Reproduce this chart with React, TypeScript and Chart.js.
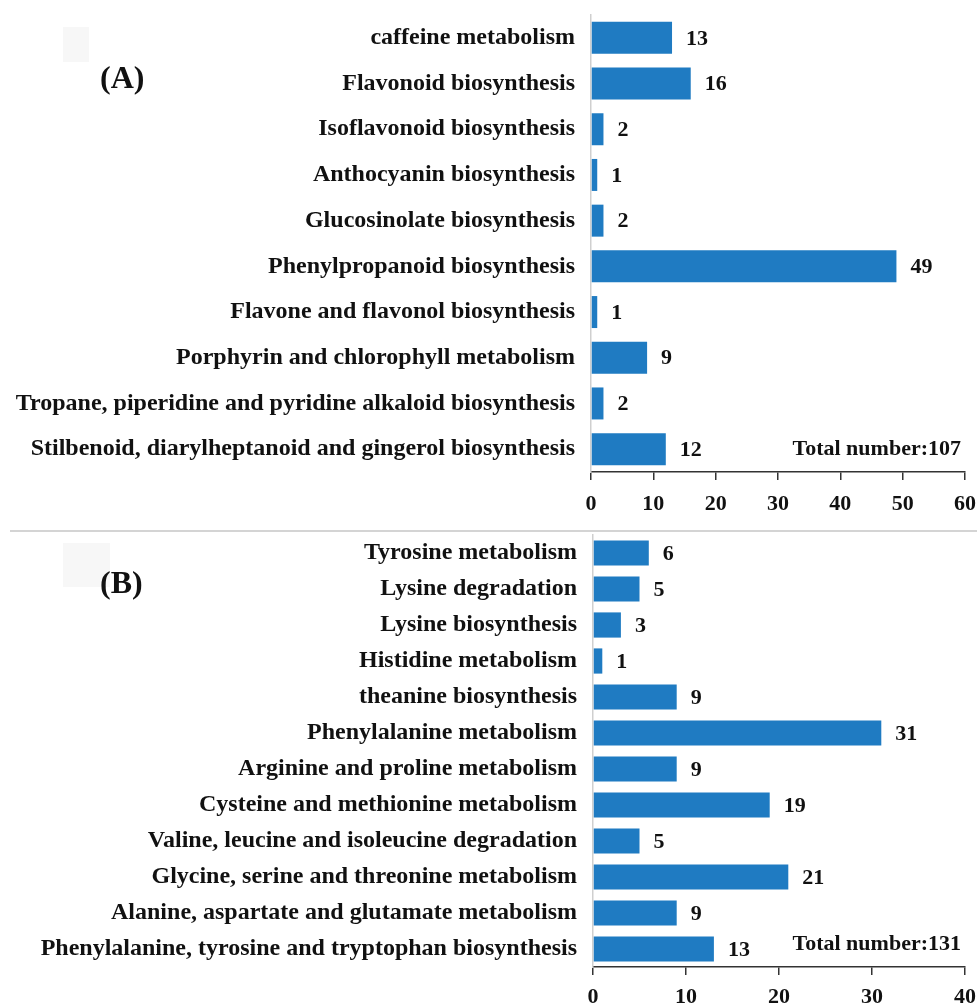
import React, { useEffect, useRef } from "react";
import { Chart, registerables } from "chart.js";

Chart.register(...registerables);

const FONT = "'Liberation Serif', 'Times New Roman', serif";
const BAR_COLOR = "#1f7bc2";

const categoriesA = [
  "caffeine metabolism",
  "Flavonoid biosynthesis",
  "Isoflavonoid biosynthesis",
  "Anthocyanin biosynthesis",
  "Glucosinolate biosynthesis",
  "Phenylpropanoid biosynthesis",
  "Flavone and flavonol biosynthesis",
  "Porphyrin and chlorophyll metabolism",
  "Tropane, piperidine and pyridine alkaloid biosynthesis",
  "Stilbenoid, diarylheptanoid and gingerol biosynthesis",
];
const valuesA = [13, 16, 2, 1, 2, 49, 1, 9, 2, 12];
const axisMaxA = 60;
const totalA = "Total number:107";

const categoriesB = [
  "Tyrosine metabolism",
  "Lysine degradation",
  "Lysine biosynthesis",
  "Histidine metabolism",
  "theanine biosynthesis",
  "Phenylalanine metabolism",
  "Arginine and proline metabolism",
  "Cysteine and methionine metabolism",
  "Valine, leucine and isoleucine degradation",
  "Glycine, serine and threonine metabolism",
  "Alanine, aspartate and glutamate metabolism",
  "Phenylalanine, tyrosine and tryptophan biosynthesis",
];
const valuesB = [6, 5, 3, 1, 9, 31, 9, 19, 5, 21, 9, 13];
const axisMaxB = 40;
const totalB = "Total number:131";

const valueLabelPlugin = {
  id: "valueLabels",
  afterDatasetsDraw(chart: any, _args: any, opts: any) {
    const { ctx } = chart;
    const meta = chart.getDatasetMeta(0);
    ctx.save();
    ctx.font = `bold 22px ${FONT}`;
    ctx.fillStyle = "#111";
    ctx.textBaseline = "middle";
    ctx.textAlign = "left";
    meta.data.forEach((bar: any, i: number) => {
      const v = chart.data.datasets[0].data[i];
      ctx.fillText(String(v), bar.x + 14, bar.y + 1);
    });
    if (opts && opts.total) {
      const last = meta.data[meta.data.length - 1];
      ctx.textAlign = "right";
      ctx.fillText(opts.total, chart.chartArea.right - 4, last.y + (opts.totalDy || 0));
    }
    ctx.restore();
  },
};

function BarPanel(props: {
  labels: string[];
  values: number[];
  max: number;
  total: string;
  totalDy: number;
  width: number;
  height: number;
  padTop: number;
  yAxisWidth: number;
  xAxisHeight: number;
  padRight: number;
  tickPad: number;
}) {
  const ref = useRef<HTMLCanvasElement>(null);
  useEffect(() => {
    const chart = new Chart(ref.current as HTMLCanvasElement, {
      type: "bar",
      data: {
        labels: props.labels,
        datasets: [
          {
            data: props.values,
            backgroundColor: BAR_COLOR,
            borderWidth: 0,
            barPercentage: 0.7,
            categoryPercentage: 1,
          },
        ],
      },
      options: {
        indexAxis: "y",
        responsive: false,
        animation: false,
        layout: { padding: { top: props.padTop, right: props.padRight, left: 0, bottom: 0 } },
        plugins: {
          legend: { display: false },
          tooltip: { enabled: false },
          valueLabels: { total: props.total, totalDy: props.totalDy },
        } as any,
        scales: {
          x: {
            min: 0,
            max: props.max,
            ticks: {
              stepSize: 10,
              color: "#111",
              padding: props.tickPad,
              maxRotation: 0,
              font: { family: FONT, size: 22, weight: "bold" },
            },
            grid: {
              display: true,
              drawOnChartArea: false,
              drawTicks: true,
              tickLength: 8,
              color: "#333",
              lineWidth: 1.5,
            },
            border: { display: true, color: "#333", width: 1.5 },
            afterFit: (s: any) => {
              s.height = props.xAxisHeight;
              s.paddingLeft = 0;
              s.paddingRight = 0;
            },
          },
          y: {
            ticks: {
              color: "#111",
              padding: 16,
              font: { family: FONT, size: 24, weight: "bold" },
            },
            grid: { display: false, drawTicks: false },
            border: { display: true, color: "#cfcfcf", width: 1.5 },
            afterFit: (s: any) => {
              s.width = props.yAxisWidth;
              s.paddingTop = 0;
              s.paddingBottom = 0;
            },
          },
        },
      } as any,
      plugins: [valueLabelPlugin],
    });
    return () => chart.destroy();
  }, []);
  return <canvas ref={ref} width={props.width} height={props.height} style={{ display: "block" }} />;
}

export default function App() {
  const labelStyle: React.CSSProperties = {
    position: "absolute",
    fontFamily: FONT,
    fontWeight: "bold",
    fontSize: 32,
    color: "#111",
    lineHeight: 1,
  };
  return (
    <div style={{ position: "absolute", left: 0, top: 0, width: 977, height: 1006, background: "#fff", overflow: "hidden" }}>
      <div style={{ position: "absolute", left: 0, top: 0 }}>
        <BarPanel
          labels={categoriesA}
          values={valuesA}
          max={axisMaxA}
          total={totalA}
          totalDy={0}
          width={977}
          height={530}
          padTop={15}
          yAxisWidth={591}
          xAxisHeight={58}
          padRight={12}
          tickPad={11}
        />
      </div>
      <div style={{ position: "absolute", left: 0, top: 530 }}>
        <BarPanel
          labels={categoriesB}
          values={valuesB}
          max={axisMaxB}
          total={totalB}
          totalDy={-5}
          width={977}
          height={476}
          padTop={5}
          yAxisWidth={593}
          xAxisHeight={39}
          padRight={12}
          tickPad={9}
        />
      </div>
      <div style={{ position: "absolute", left: 10, top: 530, width: 967, height: 2, background: "#d4d4d4" }} />
      <div style={{ position: "absolute", left: 63, top: 27, width: 26, height: 35, background: "#f7f7f7" }} />
      <div style={{ position: "absolute", left: 63, top: 543, width: 47, height: 44, background: "#f7f7f7" }} />
      <div style={{ ...labelStyle, left: 100, top: 61 }}>(A)</div>
      <div style={{ ...labelStyle, left: 100, top: 566 }}>(B)</div>
    </div>
  );
}
